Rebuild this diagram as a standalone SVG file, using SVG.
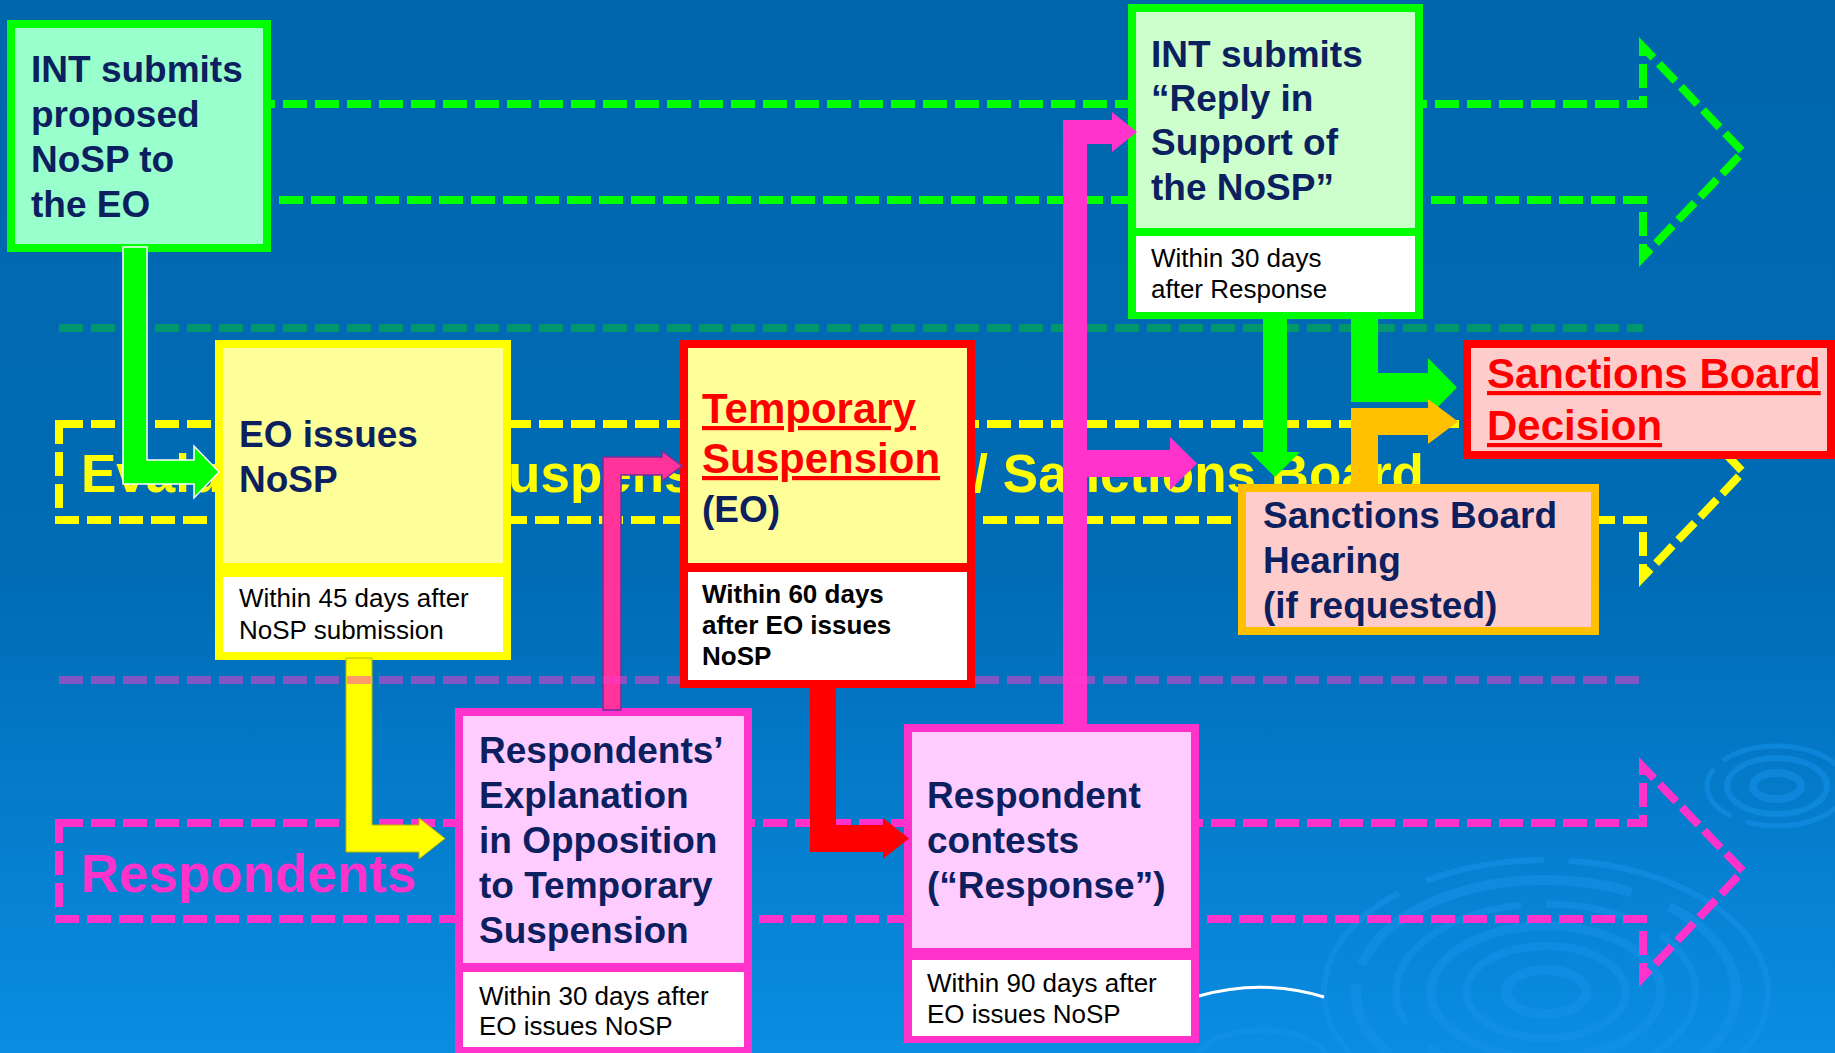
<svg xmlns="http://www.w3.org/2000/svg" width="1835" height="1053" viewBox="0 0 1835 1053">
<defs>
<linearGradient id="bg" x1="0" y1="0" x2="0" y2="1">
<stop offset="0" stop-color="#0066AC"/>
<stop offset="0.55" stop-color="#006CB6"/>
<stop offset="1" stop-color="#0A8DE2"/>
</linearGradient>
<style>
.lane{fill:none;stroke-width:8;stroke-dasharray:24 8}
.sep{fill:none;stroke-width:8;stroke-dasharray:24 8}
.ripple{fill:none;stroke:#1592EA;stroke-opacity:0.55}
.t{font-family:"Liberation Sans",Arial,sans-serif;font-weight:bold;font-size:37px;fill:#0C1F5F}
.s{font-family:"Liberation Sans",Arial,sans-serif;font-size:26px;fill:#000}
.sb{font-family:"Liberation Sans",Arial,sans-serif;font-size:26px;font-weight:bold;fill:#000}
.red{font-family:"Liberation Sans",Arial,sans-serif;font-weight:bold;font-size:42px;fill:#FF0000;text-decoration:underline}
.lbl{font-family:"Liberation Sans",Arial,sans-serif;font-weight:bold;font-size:53px}
</style>
</defs>
<rect x="0" y="0" width="1835" height="1053" fill="url(#bg)"/>
<g id="ripples">
<ellipse class="ripple" cx="1546" cy="992" rx="222" ry="132" stroke-width="6" stroke-dasharray="260 30 120 25"/>
<ellipse class="ripple" cx="1546" cy="992" rx="190" ry="112" stroke-width="10" stroke-dasharray="300 40 150 20"/>
<ellipse class="ripple" cx="1546" cy="992" rx="150" ry="88" stroke-width="7" stroke-dasharray="200 25 90 30"/>
<ellipse class="ripple" cx="1546" cy="992" rx="115" ry="66" stroke-width="9"/>
<ellipse class="ripple" cx="1546" cy="992" rx="80" ry="46" stroke-width="8"/>
<ellipse class="ripple" cx="1546" cy="992" rx="40" ry="22" stroke-width="10"/>
<ellipse class="ripple" cx="1777" cy="786" rx="70" ry="40" stroke-width="5" stroke-dasharray="120 15 60 12"/>
<ellipse class="ripple" cx="1777" cy="786" rx="50" ry="28" stroke-width="6"/>
<ellipse class="ripple" cx="1777" cy="786" rx="24" ry="13" stroke-width="8"/>
<ellipse class="ripple" cx="1262" cy="1068" rx="70" ry="38" stroke-width="6"/>
<path d="M1199 996 Q1262 978 1324 997" fill="none" stroke="#FFFFFF" stroke-width="3"/>
</g>
<g id="lanes">
<path class="lane" stroke="#00FF00" d="M59 104 H1643 V47 L1743 152 L1643 257 V200 H59 Z"/>
<path class="lane" stroke="#FFFF00" d="M59 424 H1643 V367 L1743 472 L1643 577 V520 H59 Z"/>
<path class="lane" stroke="#FF33CC" d="M59 823 H1643 V767 L1743 871 L1643 977 V919 H59 Z"/>
<path class="sep" stroke="#00966E" d="M59 328 H1643"/>
<text class="lbl" x="81" y="492" fill="#FFFF00">Evaluation and Suspension Officer / Sanctions Board</text>
<text class="lbl" x="81" y="892" fill="#FF33CC">Respondents</text>
</g>
<g id="node-int-nosp">
<rect x="11" y="24" width="256" height="224" fill="#99FFCC" stroke="#00FF00" stroke-width="8"/>
<text class="t" x="31" y="82">INT submits</text>
<text class="t" x="31" y="127">proposed</text>
<text class="t" x="31" y="172">NoSP to</text>
<text class="t" x="31" y="217">the EO</text>
</g>
<g id="node-eo-issues">
<rect x="215" y="340" width="296" height="320" fill="#FFFF00"/>
<rect x="223" y="348" width="280" height="215" fill="#FFFF99"/>
<rect x="223" y="577" width="280" height="75" fill="#FFFFFF"/>
<text class="t" x="239" y="447">EO issues</text>
<text class="t" x="239" y="492">NoSP</text>
<text class="s" x="239" y="607">Within 45 days after</text>
<text class="s" x="239" y="639">NoSP submission</text>
</g>
<g id="node-temp-suspension">
<rect x="680" y="340" width="295" height="348" fill="#FF0000"/>
<rect x="688" y="348" width="279" height="215" fill="#FFFF99"/>
<rect x="688" y="572" width="279" height="108" fill="#FFFFFF"/>
<text class="red" x="702" y="423">Temporary</text>
<text class="red" x="702" y="473">Suspension</text>
<text class="t" x="702" y="522">(EO)</text>
<text class="sb" x="702" y="603">Within 60 days</text>
<text class="sb" x="702" y="634">after EO issues</text>
<text class="sb" x="702" y="665">NoSP</text>
</g>
<g id="node-resp-explanation">
<rect x="455" y="708" width="297" height="345" fill="#FF33CC"/>
<rect x="463" y="716" width="281" height="247" fill="#FFCCFF"/>
<rect x="463" y="972" width="281" height="75" fill="#FFFFFF"/>
<text class="t" x="479" y="763">Respondents’</text>
<text class="t" x="479" y="808">Explanation</text>
<text class="t" x="479" y="853">in Opposition</text>
<text class="t" x="479" y="898">to Temporary</text>
<text class="t" x="479" y="943">Suspension</text>
<text class="s" x="479" y="1005">Within 30 days after</text>
<text class="s" x="479" y="1035">EO issues NoSP</text>
</g>
<g id="node-resp-contests">
<rect x="904" y="724" width="295" height="319" fill="#FF33CC"/>
<rect x="912" y="732" width="279" height="216" fill="#FFCCFF"/>
<rect x="912" y="960" width="279" height="76" fill="#FFFFFF"/>
<text class="t" x="927" y="808">Respondent</text>
<text class="t" x="927" y="853">contests</text>
<text class="t" x="927" y="898">(“Response”)</text>
<text class="s" x="927" y="992">Within 90 days after</text>
<text class="s" x="927" y="1023">EO issues NoSP</text>
</g>
<g id="node-int-reply">
<rect x="1128" y="4" width="295" height="315" fill="#00FF00"/>
<rect x="1136" y="12" width="279" height="216" fill="#CCFFCC"/>
<rect x="1136" y="236" width="279" height="76" fill="#FFFFFF"/>
<text class="t" x="1151" y="67">INT submits</text>
<text class="t" x="1151" y="111">“Reply in</text>
<text class="t" x="1151" y="155">Support of</text>
<text class="t" x="1151" y="200">the NoSP”</text>
<text class="s" x="1151" y="267">Within 30 days</text>
<text class="s" x="1151" y="298">after Response</text>
</g>
<g id="node-sb-decision">
<rect x="1463" y="340" width="372" height="119" fill="#FF0000"/>
<rect x="1471" y="348" width="356" height="103" fill="#FFCCCC"/>
<text class="red" x="1487" y="388">Sanctions Board</text>
<text class="red" x="1487" y="440">Decision</text>
</g>
<g id="node-sb-hearing">
<rect x="1242" y="488" width="353" height="143" fill="#FFCCCC" stroke="#FFC000" stroke-width="8"/>
<text class="t" x="1263" y="528">Sanctions Board</text>
<text class="t" x="1263" y="573">Hearing</text>
<text class="t" x="1263" y="618">(if requested)</text>
</g>
<g id="connectors">
<polygon points="123,247 147,247 147,460 194,460 194,446 219,472 194,498 194,484 123,484" fill="#00FF00" stroke="#FFFFFF" stroke-width="1.5"/>
<polygon points="346,658 372,658 372,825 419,825 419,818 445,838.5 419,859 419,852 346,852" fill="#FFFF00" stroke="#B8B800" stroke-width="1"/>
<polygon points="810,682 836,682 836,825 883,825 883,818 909,838.5 883,859 883,852 810,852" fill="#FF0000"/>
<polygon points="603,710 603,457 662,457 662,451 682,466 662,481 662,475 621,475 621,710" fill="#FF3399" stroke="#7030A0" stroke-width="1.5"/>
<polygon points="1063,724 1063,120 1112,120 1112,112 1137,132 1112,152 1112,144 1087,144 1087,450 1170,450 1170,437 1197,463.5 1170,490 1170,477 1087,477 1087,724" fill="#FF33CC"/>
<polygon points="1263,316 1287,316 1287,452 1300,452 1275,477 1250,452 1263,452" fill="#00FF00"/>
<polygon points="1351,316 1378,316 1378,373 1428,373 1428,358 1457,387.5 1428,417 1428,402 1351,402" fill="#00FF00"/>
<polygon points="1351,487 1351,408 1428,408 1428,399 1458,421.5 1428,444 1428,435 1378,435 1378,487" fill="#FFC000"/>
</g>
<g id="separator-lower">
<path class="sep" stroke="#FF38CC" stroke-opacity="0.5" d="M59 680 H680 M975 680 H1643"/>
</g>
</svg>
